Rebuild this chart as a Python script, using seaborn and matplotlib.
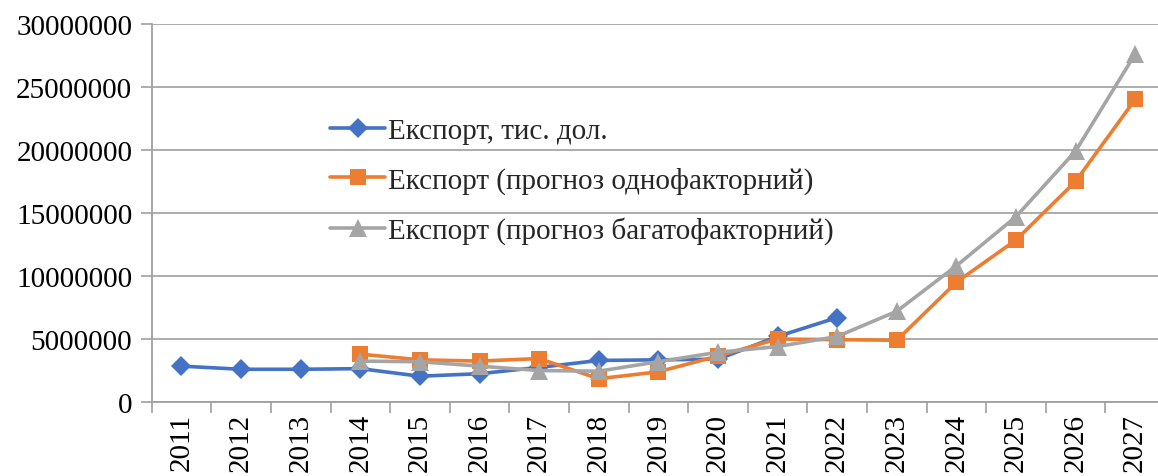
import numpy as np
import pandas as pd
import matplotlib
matplotlib.use("Agg")
import matplotlib.pyplot as plt
import seaborn as sns

years = [str(y) for y in range(2011, 2028)]

actual_years = years[0:12]
actual = [2.85e6, 2.6e6, 2.6e6, 2.65e6, 2.05e6, 2.25e6, 2.75e6, 3.3e6, 3.35e6, 3.4e6, 5.2e6, 6.7e6]

single_years = years[3:]
single = [3.8e6, 3.35e6, 3.25e6, 3.45e6, 1.85e6, 2.4e6, 3.65e6, 5.0e6, 4.95e6, 4.9e6, 9.5e6, 12.85e6, 17.5e6, 24.0e6]

multi_years = years[3:]
multi = [3.25e6, 3.2e6, 2.85e6, 2.5e6, 2.45e6, 3.2e6, 3.95e6, 4.4e6, 5.2e6, 7.2e6, 10.8e6, 14.7e6, 19.9e6, 27.6e6]

labels = ["Експорт, тис. дол.",
          "Експорт (прогноз однофакторний)",
          "Експорт (прогноз багатофакторний)"]
yticks = [0, 5000000, 10000000, 15000000, 20000000, 25000000, 30000000]

sns.set_theme(style="white")
plt.rcParams['font.family'] = ['Liberation Serif', 'DejaVu Serif']

fig = plt.figure(figsize=(11.58, 4.77), dpi=100)
ax = fig.add_axes([0.131, 0.155, 1.006 - 0.131, 0.948 - 0.155])

pos = {y: i for i, y in enumerate(years)}
df_a = pd.DataFrame({"x": [pos[y] for y in actual_years], "v": actual})
df_s = pd.DataFrame({"x": [pos[y] for y in single_years], "v": single})
df_m = pd.DataFrame({"x": [pos[y] for y in multi_years], "v": multi})

lw = 2.6
sns.lineplot(data=df_a, x="x", y="v", ax=ax, color="#4472C4", lw=lw, marker="D",
             markersize=10.5, markeredgewidth=0, label=labels[0], zorder=3)
sns.lineplot(data=df_s, x="x", y="v", ax=ax, color="#ED7D31", lw=lw, marker="s",
             markersize=12, markeredgewidth=0, label=labels[1], zorder=4)
sns.lineplot(data=df_m, x="x", y="v", ax=ax, color="#A5A5A5", lw=lw, marker="^",
             markersize=13, markeredgewidth=0, label=labels[2], zorder=5)

ax.set_xlim(-0.5, len(years) - 0.5)
ax.set_ylim(0, 30000000)
ax.set_yticks(yticks)
ax.set_yticklabels([str(v) for v in yticks])
ax.set_xticks(range(len(years)))
ax.set_xticklabels(years, rotation=90)
ax.set_xticks(np.arange(-0.5, len(years), 1.0), minor=True)
ax.tick_params(axis="x", which="major", length=0, pad=8, labelsize=21, colors="black")
ax.tick_params(axis="x", which="minor", length=8, width=1.2, color="#A0A0A0", direction="out", bottom=True)
ax.tick_params(axis="y", which="major", length=8, width=1.2, color="#A0A0A0", direction="out",
               left=True, pad=6, labelsize=21, labelcolor="black")
ax.set_xlabel("")
ax.set_ylabel("")

ax.grid(axis="y", color="#A6A6A6", lw=1.3)
ax.set_axisbelow(True)
for s in ["top", "right"]:
    ax.spines[s].set_visible(False)
for s in ["left", "bottom"]:
    ax.spines[s].set_color("#A0A0A0")
    ax.spines[s].set_linewidth(1.3)

leg = ax.legend(loc="upper left", bbox_to_anchor=(0.285, 0.752), bbox_transform=fig.transFigure,
                frameon=False, fontsize=21, handlelength=1.9, handletextpad=0.1,
                labelspacing=0.78, borderaxespad=0, borderpad=0)

fig.savefig("out.png", dpi=100)
